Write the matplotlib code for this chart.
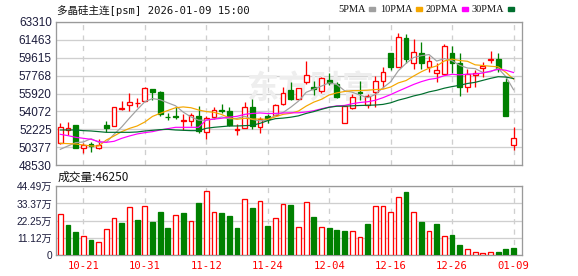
import numpy as np
import pandas as pd
import matplotlib
matplotlib.use("Agg")
import matplotlib.pyplot as plt
from matplotlib.patches import Rectangle

# ---- data (60 trading days, 10-16 .. 01-09) ----
opens = [50790, 52130, 52650, 50280, 50720, 50280, 52650, 52580, 54290, 54700,
         54910, 55110, 56350, 56070, 53540, 53570, 53120, 53060, 53570, 51960,
         53540, 54220, 54120, 52160, 52340, 54500, 52440, 53570, 53740, 54840,
         56280, 55320, 57140, 56590, 56210, 57310, 56900, 52850, 54390, 56110,
         54740, 56110, 57170, 60120, 58680, 61600, 59090, 60050, 58680, 58060,
         57890, 60050, 59020, 56620, 57820, 58510, 59330, 59470, 57140, 50590]
closes = [52510, 52340, 50350, 50620, 50520, 50660, 52340, 54500, 54390, 55050,
          54980, 56450, 56110, 53780, 53470, 53470, 53190, 53670, 52060, 53430,
          54220, 54150, 52710, 52270, 54570, 52580, 53330, 53260, 54700, 55940,
          55320, 56450, 57790, 56380, 57480, 57030, 55530, 54630, 55590, 56010,
          55660, 57170, 58100, 58680, 61700, 59440, 60220, 59020, 59260, 58340,
          60770, 59090, 56620, 57890, 58060, 58750, 59440, 58410, 53610, 51340]
highs = [52920, 52950, 52710, 50860, 50930, 51240, 53090, 54500, 55150, 55940,
         55420, 56620, 56350, 56180, 53880, 54500, 53810, 53950, 54630, 53610,
         54530, 54810, 54500, 52750, 55050, 55350, 53540, 53780, 54840, 56550,
         57140, 56450, 59260, 57210, 57650, 58060, 57140, 54630, 55870, 57210,
         55870, 57760, 58680, 60120, 62180, 62040, 61490, 61180, 59780, 59020,
         61010, 60810, 60050, 58410, 58340, 59200, 60290, 60050, 57480, 52510]
lows = [50720, 51650, 50310, 49830, 49940, 50210, 51990, 52580, 54220, 54150,
        54500, 55110, 55250, 53600, 53190, 53260, 52170, 52580, 51890, 51200,
        53330, 53880, 52580, 51690, 52340, 52230, 51820, 52920, 53740, 54740,
        55250, 55320, 56860, 55770, 56010, 56790, 55420, 52850, 54290, 55250,
        54390, 54500, 56450, 58340, 58680, 59020, 58470, 58470, 58170, 57140,
        57890, 58000, 55700, 56110, 56620, 57650, 59020, 58170, 53610, 50110]

# volume in 万 lots, and whether the bar is drawn as "up" (red)
volume = [26.8, 19.6, 15.0, 12.2, 9.8, 8.5, 16.8, 24.0, 20.9, 31.2,
          22.9, 31.8, 21.6, 28.1, 17.7, 26.2, 27.5, 22.0, 33.4, 41.7,
          27.9, 27.5, 25.5, 17.7, 36.4, 30.7, 35.1, 19.0, 24.0, 33.1,
          32.7, 18.1, 34.5, 24.9, 18.1, 17.7, 16.4, 15.7, 15.5, 11.6,
          20.3, 31.8, 31.8, 27.9, 37.7, 40.6, 27.9, 21.6, 15.5, 20.3,
          12.2, 13.1, 6.5, 3.7, 2.0, 1.3, 2.0, 2.0, 3.9, 4.625]
volume_up = [1, 0, 0, 1, 0, 1, 1, 1, 0, 1,
             0, 1, 0, 0, 0, 1, 0, 1, 0, 1,
             1, 0, 0, 0, 1, 0, 1, 0, 1, 1,
             0, 1, 1, 0, 1, 0, 0, 0, 1, 1,
             0, 1, 1, 1, 1, 0, 1, 0, 1, 0,
             1, 0, 0, 1, 1, 1, 1, 0, 0, 0]

# moving-average values before a full window is available
ma5_head = [50176, 50519, 50862, 50931]
ma10_head = [50794, 50760, 50725, 50622, 50519, 50519, 51137, 51548, 51994]
ma20_head = [51720, 51582, 51411, 51308, 51205, 50965, 50897, 50999, 51308, 51548,
             51754, 51891, 51994, 52165, 52302, 52440, 52440, 52440, 52440]
ma30_head = [52165, 52165, 52165, 52097, 52062, 51994, 51925, 51925, 51925, 51925,
             51960, 52062, 52131, 52200, 52234, 52165, 52131, 52097, 52097, 52337,
             52440, 52509, 52577, 52577, 52611, 52645, 52851, 53125, 53331]

date_labels = ["10-21", "10-31", "11-12", "11-24", "12-04", "12-16", "12-26", "01-09"]
date_index = [3, 11, 19, 27, 35, 43, 51, 59]

price_ticks = [48530, 50377.5, 52225, 54072.5, 55920, 57767.5, 59615, 61462.5, 63310]
price_labels = ["48530", "50377", "52225", "54072", "55920", "57768", "59615", "61463", "63310"]
vol_ticks = [0, 11.1225, 22.245, 33.3675, 44.49]
vol_labels = ["0", "11.12万", "22.25万", "33.37万", "44.49万"]

title = "多晶硅主连[psm] 2026-01-09 15:00"
last_volume = "成交量:46250"

RED = "#ff0000"
GREEN = "#008000"
MA_COLORS = {"5PMA": "#a0a0a0", "10PMA": "#f5a700", "20PMA": "#ff00ff", "30PMA": "#006f2e"}
FRAME = "#9a9a9a"
GRID = "#cfcfcf"
LABEL = "#1c1c3c"
PX = 0.72  # one pixel in points at dpi 100

plt.rcParams["font.family"] = ["Liberation Sans", "Noto Sans CJK SC"]


def moving_average(head, window):
    ma = pd.Series(closes, dtype=float).rolling(window).mean().to_numpy()
    ma[:len(head)] = head
    return ma


def style_axes(ax):
    for s in ax.spines.values():
        s.set_color(FRAME)
        s.set_linewidth(PX * 1.3)
    ax.tick_params(length=0, colors=LABEL, labelsize=8.5, pad=3)
    ax.set_xticks(date_index)
    ax.grid(axis="y", color=GRID, lw=PX * 1.3, ls="-")
    ax.grid(axis="x", color=GRID, lw=PX * 1.3, ls=(0, (4, 4)))
    ax.set_axisbelow(True)
    ax.set_xlim(-0.56, 60.1)


def draw_candles(ax):
    o, c = np.array(opens), np.array(closes)
    h, l = np.array(highs), np.array(lows)
    x = np.arange(len(c))
    up = c >= o
    lo, hi = np.minimum(o, c), np.maximum(o, c)
    ax.vlines(x[up], hi[up], h[up], color=RED, lw=PX * 1.3, zorder=3)
    ax.vlines(x[up], l[up], lo[up], color=RED, lw=PX * 1.3, zorder=3)
    ax.vlines(x[~up], l[~up], h[~up], color=GREEN, lw=PX * 1.3, zorder=3)
    ax.bar(x[up], hi[up] - lo[up], bottom=lo[up], width=0.62, facecolor="white",
           edgecolor=RED, lw=PX * 1.3, zorder=4)
    ax.bar(x[~up], hi[~up] - lo[~up], bottom=lo[~up], width=0.62, facecolor=GREEN,
           edgecolor=GREEN, lw=PX * 1.3, zorder=4)


def main():
    fig = plt.figure(figsize=(5.78, 2.76), dpi=100)
    W, H = 578, 276
    ax1 = fig.add_axes([56 / W, 1 - 165.3 / H, 466 / W, 143.6 / H])
    ax2 = fig.add_axes([56 / W, 1 - 255 / H, 466 / W, 68.7 / H])

    # price panel
    style_axes(ax1)
    ax1.set_ylim(price_ticks[0], price_ticks[-1])
    ax1.set_yticks(price_ticks, price_labels)
    ax1.tick_params(labelbottom=False)
    ax1.text(0.545, 0.53, "东方财富", transform=ax1.transAxes, ha="center", va="center",
             fontsize=23, color="#eeeeee", fontweight="bold",
             family=["Noto Sans CJK SC"], zorder=1)
    draw_candles(ax1)
    x = np.arange(len(closes))
    for (name, color), head, win in zip(MA_COLORS.items(),
                                        [ma5_head, ma10_head, ma20_head, ma30_head],
                                        [5, 10, 20, 30]):
        ax1.plot(x, moving_average(head, win), color=color, lw=PX * 1.2, zorder=5)

    # volume panel
    style_axes(ax2)
    ax2.set_ylim(0, vol_ticks[-1])
    ax2.set_yticks(vol_ticks, vol_labels)
    ax2.tick_params(axis="y", labelsize=7.3)
    ax2.set_xticks(date_index, date_labels)
    ax2.tick_params(axis="x", colors=RED, labelsize=7.6, pad=4)
    for lab in ax2.get_xticklabels():
        lab.set_family(["DejaVu Sans Mono"])
    vup = np.array(volume_up, dtype=bool)
    v = np.array(volume)
    ax2.bar(x[vup], v[vup], width=0.62, facecolor="white", edgecolor=RED,
            lw=PX * 1.3, zorder=3)
    ax2.bar(x[~vup], v[~vup], width=0.62, facecolor=GREEN, edgecolor=GREEN,
            lw=PX * 1.3, zorder=3)

    # header texts
    fig.text(57 / W, 1 - 10 / H, title, fontsize=7.6, va="center", ha="left",
             family=["DejaVu Sans Mono", "Noto Sans CJK SC"], color="#111111")
    fig.text(58 / W, 1 - 177 / H, last_volume, fontsize=8.5, va="center", ha="left",
             family=["Noto Sans CJK SC"], color="#111111")
    lx = [338, 380, 426, 472]
    for left, (name, color) in zip(lx, MA_COLORS.items()):
        t = fig.text(left / W, 1 - 9 / H, name, fontsize=7.5, va="center", ha="left",
                     family=["Liberation Serif"], color="#111111")
        fig.canvas.draw()
        bb = t.get_window_extent()
        fig.patches.append(Rectangle(((bb.x1 + 3) / W, 1 - 11 / H), 6 / W, 4 / H,
                                     transform=fig.transFigure, color=color))

    fig.savefig("out.png", dpi=100)


if __name__ == "__main__":
    main()
